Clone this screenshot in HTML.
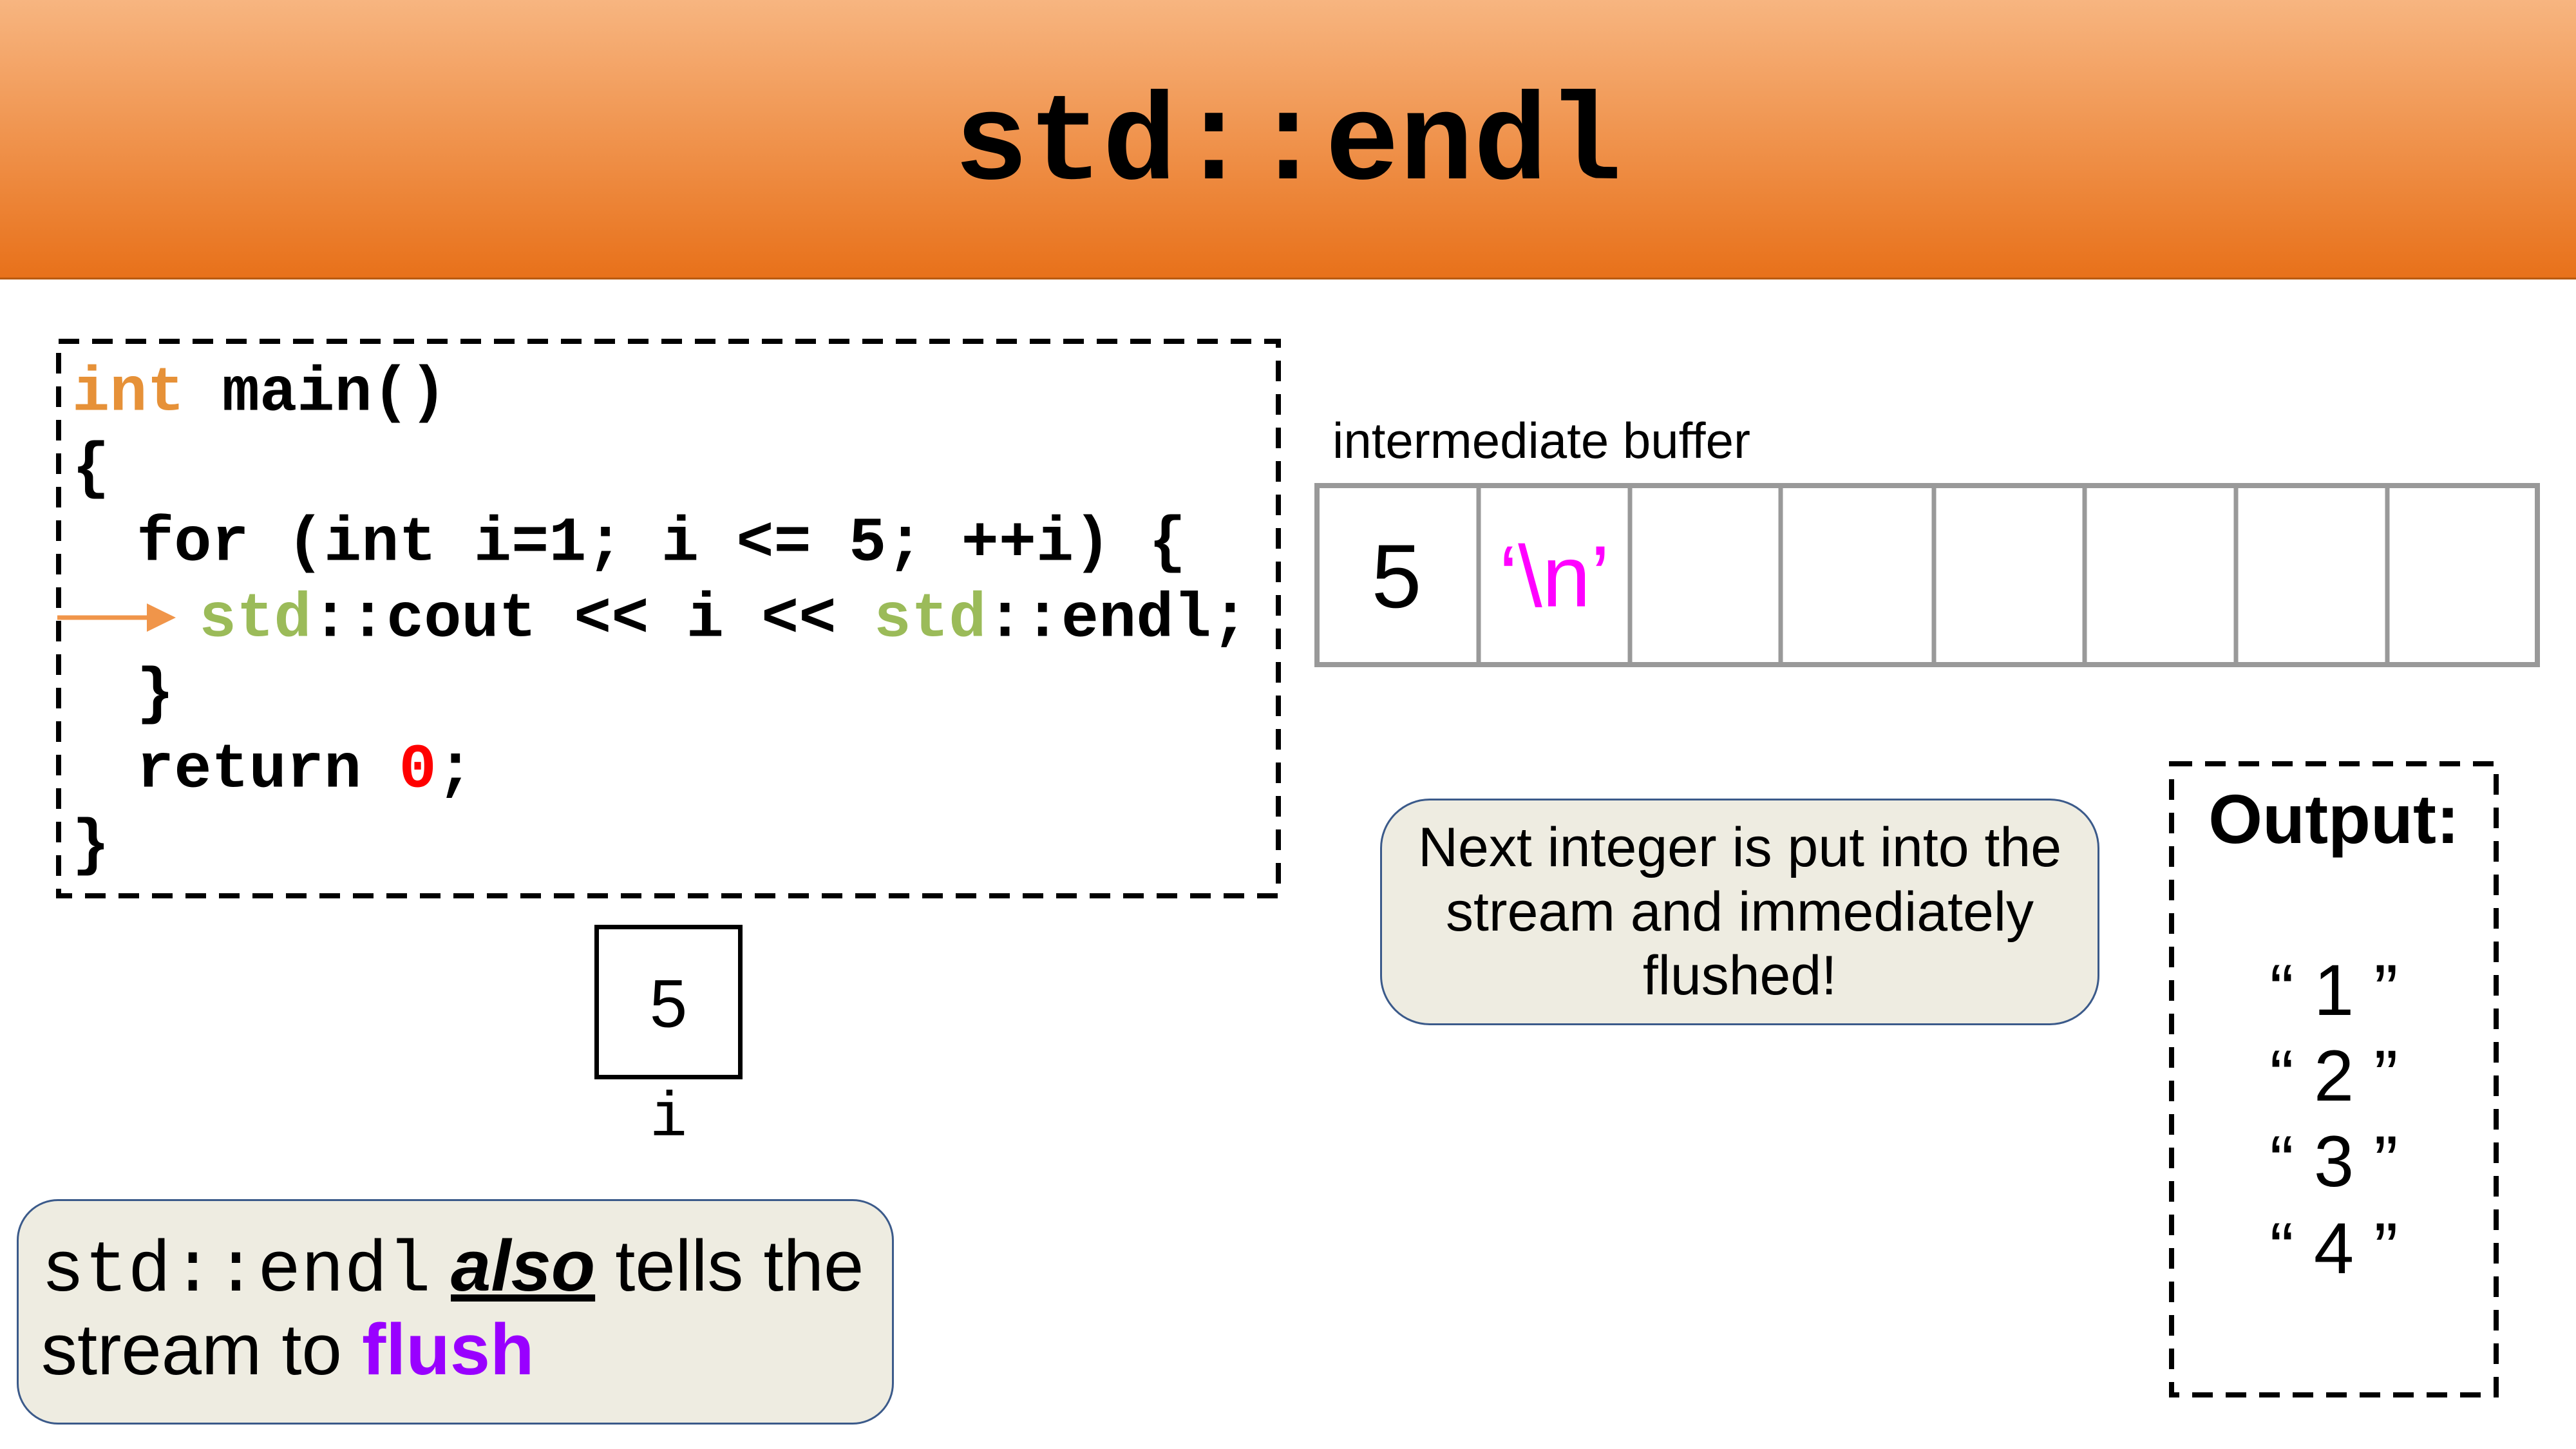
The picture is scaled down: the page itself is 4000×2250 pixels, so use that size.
<!DOCTYPE html>
<html><head><meta charset="utf-8"><style>
*{margin:0;padding:0;box-sizing:border-box}
body{width:4000px;height:2250px;background:#fff;position:relative;overflow:hidden;font-family:"Liberation Sans",sans-serif}
.a{position:absolute;white-space:pre}
.m{font-family:"Liberation Mono","DejaVu Sans Mono",monospace;font-weight:bold}
.c{line-height:1;transform:translateY(-50%)}
</style></head><body>
<div class="a" style="left:0;top:0;width:4000px;height:434px;background:linear-gradient(#f7b580,#e8711a);border-bottom:3px solid #b85a10"></div>
<div class="a m c" style="left:0;width:4000px;text-align:center;top:226px;font-size:192px;color:#000">std::endl</div>

<svg class="a" style="left:0;top:0" width="4000" height="2250">
<rect x="91" y="530" width="1894" height="861" fill="none" stroke="#000" stroke-width="8" stroke-dasharray="32 20"/>
<rect x="3372" y="1186" width="504" height="980" fill="none" stroke="#000" stroke-width="8" stroke-dasharray="32 20"/>
<line x1="89" y1="959" x2="230" y2="959" stroke="#f0954a" stroke-width="7"/>
<polygon points="228,937 273,959 228,981" fill="#f0954a"/>
</svg>
<div class="a m c" style="left:112px;top:612px;font-size:97px"><span style="color:#e69138">int</span> main()</div>
<div class="a m c" style="left:112px;top:730px;font-size:97px">{</div>
<div class="a m c" style="left:212px;top:845px;font-size:97px">for (int i=1; i &lt;= 5; ++i) {</div>
<div class="a m c" style="left:309px;top:963px;font-size:97px"><span style="color:#9bbb59">std</span>::cout &lt;&lt; i &lt;&lt; <span style="color:#9bbb59">std</span>::endl;</div>
<div class="a m c" style="left:212px;top:1080px;font-size:97px">}</div>
<div class="a m c" style="left:212px;top:1197px;font-size:97px">return <span style="color:#ff0000">0</span>;</div>
<div class="a m c" style="left:112px;top:1315px;font-size:97px">}</div>

<div class="a" style="left:923px;top:1436px;width:230px;height:240px;border:7px solid #000"></div>
<div class="a c" style="left:923px;width:230px;text-align:center;top:1559px;font-size:105px">5</div>
<div class="a m c" style="left:923px;width:230px;text-align:center;top:1738px;font-size:97px;font-weight:normal">i</div>

<div class="a" style="left:26px;top:1862px;width:1362px;height:350px;background:#eeece1;border:3px solid #3b5a8a;border-radius:64px"></div>
<div class="a" style="left:64px;top:1910px;font-size:112px;line-height:1"><span class="m" style="font-weight:normal">std::endl</span> <b><i><u>also</u></i></b> tells the</div>
<div class="a" style="left:64px;top:2040px;font-size:112px;line-height:1">stream to <b style="color:#9900ff">flush</b></div>

<div class="a c" style="left:2069px;top:684px;font-size:78px">intermediate buffer</div>
<div class="a" style="left:2041px;top:750px;width:1903px;height:286px;border:8px solid #999"></div>
<svg class="a" style="left:0;top:0" width="4000" height="2250">
<g stroke="#999" stroke-width="7">
<line x1="2296" y1="750" x2="2296" y2="1036"/><line x1="2531" y1="750" x2="2531" y2="1036"/>
<line x1="2765" y1="750" x2="2765" y2="1036"/><line x1="3003" y1="750" x2="3003" y2="1036"/>
<line x1="3237" y1="750" x2="3237" y2="1036"/><line x1="3472" y1="750" x2="3472" y2="1036"/>
<line x1="3707" y1="750" x2="3707" y2="1036"/></g>
</svg>
<div class="a c" style="left:2041px;width:255px;text-align:center;top:895px;font-size:140px">5</div>
<div class="a c" style="left:2296px;width:235px;text-align:center;top:895px;font-size:135px;color:#ff00ff">‘\n’</div>

<div class="a" style="left:2143px;top:1240px;width:1117px;height:352px;background:#eeece1;border:3px solid #3b5a8a;border-radius:77px"></div>
<div class="a c" style="left:2143px;width:1117px;text-align:center;top:1316px;font-size:86px">Next integer is put into the</div>
<div class="a c" style="left:2143px;width:1117px;text-align:center;top:1416px;font-size:86px">stream and immediately</div>
<div class="a c" style="left:2143px;width:1117px;text-align:center;top:1515px;font-size:86px">flushed!</div>

<div class="a c" style="left:3370px;width:508px;text-align:center;top:1272px;font-size:108px;font-weight:bold">Output:</div>
<div class="a c" style="left:3370px;width:508px;text-align:center;top:1538px;font-size:112px">“ 1 ”</div>
<div class="a c" style="left:3370px;width:508px;text-align:center;top:1671px;font-size:112px">“ 2 ”</div>
<div class="a c" style="left:3370px;width:508px;text-align:center;top:1804px;font-size:112px">“ 3 ”</div>
<div class="a c" style="left:3370px;width:508px;text-align:center;top:1939px;font-size:112px">“ 4 ”</div>
</body></html>
